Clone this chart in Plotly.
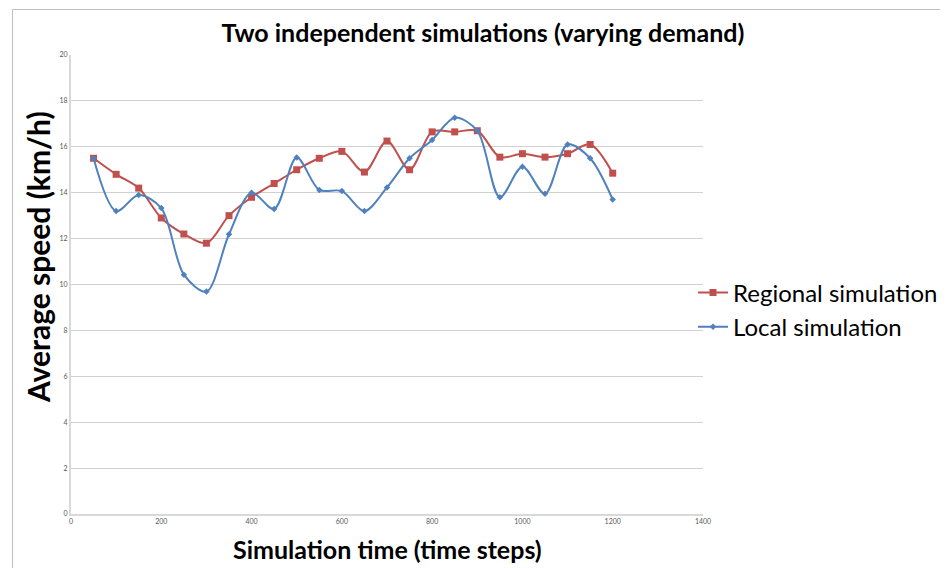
import plotly.graph_objects as go

time_steps = [50, 100, 150, 200, 250, 300, 350, 400, 450, 500, 550, 600,
              650, 700, 750, 800, 850, 900, 950, 1000, 1050, 1100, 1150, 1200]
regional = [15.5, 14.8, 14.2, 12.9, 12.2, 11.8, 13.0, 13.8, 14.4, 15.0, 15.5, 15.8,
            14.9, 16.25, 15.0, 16.65, 16.65, 16.7, 15.55, 15.7, 15.55, 15.7, 16.1, 14.85]
local = [15.5, 13.2, 13.9, 13.33, 10.43, 9.69, 12.19, 14.0, 13.29, 15.53, 14.12, 14.07,
         13.2, 14.23, 15.5, 16.3, 17.27, 16.7, 13.8, 15.13, 13.95, 16.1, 15.5, 13.7]

x_ticks = [0, 200, 400, 600, 800, 1000, 1200, 1400]
y_ticks = [0, 2, 4, 6, 8, 10, 12, 14, 16, 18, 20]

RED = "#C0504D"
BLUE = "#4F81BD"
FONT = "Lato, Open Sans, sans-serif"

# page body has an 8px margin, so the figure is drawn 8px in from the window corner
OFF = 8
W, H = 948 - OFF, 568 - OFF
L, R, T, B = 71 - OFF, 245, 55 - OFF, 54
PW, PH = W - L - R, H - T - B


def px(sx):  # screen x -> paper x
    return (sx - 71) / PW


def py(sy):  # screen y -> paper y
    return (514 - sy) / PH


fig = go.Figure()
fig.add_trace(go.Scatter(
    x=time_steps, y=regional, name="Regional simulation",
    mode="lines+markers", line=dict(color=RED, width=2, shape="spline", smoothing=0.9),
    marker=dict(symbol="square", size=7, color=RED),
))
fig.add_trace(go.Scatter(
    x=time_steps, y=local, name="Local simulation",
    mode="lines+markers", line=dict(color=BLUE, width=2, shape="spline", smoothing=0.9),
    marker=dict(symbol="diamond", size=5, color=BLUE),
))

fig.update_layout(
    width=W, height=H,
    margin=dict(l=L, r=R, t=T, b=B, autoexpand=False),
    paper_bgcolor="white", plot_bgcolor="white",
    font=dict(family=FONT, color="black"),
    title=dict(text="<b>Two independent simulations (varying demand)</b>",
               font=dict(size=25, family=FONT, color="black"),
               x=(483 - OFF) / W, xref="container", xanchor="center",
               y=1 - (33 - OFF) / H, yref="container", yanchor="middle"),
    legend=dict(x=px(693), xanchor="left", y=py(310), yanchor="middle",
                font=dict(size=24, family=FONT, color="black"),
                bgcolor="rgba(0,0,0,0)", tracegroupgap=0, itemwidth=30),
    showlegend=True,
)
fig.update_xaxes(
    range=[0, 1400], tickvals=x_ticks, ticktext=[str(v) for v in x_ticks],
    tickfont=dict(size=7, color="#595959"), showgrid=False, zeroline=False,
    showline=True, linecolor="#D9D9D9", linewidth=2, ticks="", ticklen=0,
    automargin=False,
)
fig.update_yaxes(
    range=[0, 20], tickvals=y_ticks, ticktext=[str(v) for v in y_ticks],
    tickfont=dict(size=7, color="#595959"), showgrid=True, gridcolor="#D0D0D0", gridwidth=1,
    zeroline=False, showline=True, linecolor="#D9D9D9", linewidth=2, ticks="", ticklen=0,
    automargin=False,
)

fig.add_annotation(text="<b>Simulation time (time steps)</b>", xref="paper", yref="paper",
                   x=px(387), y=py(549), xanchor="center", yanchor="middle",
                   showarrow=False, font=dict(size=25, family=FONT, color="black"))
fig.add_annotation(text="<b>Average speed (km/h)</b>", xref="paper", yref="paper",
                   x=px(38), y=py(257), xanchor="center", yanchor="middle",
                   textangle=-90, showarrow=False, font=dict(size=30, family=FONT, color="black"))

# outer chart-area border (left and top edges visible)
fig.add_shape(type="line", xref="paper", yref="paper", x0=px(12.5), x1=px(12.5), y0=py(9.5), y1=py(600),
              line=dict(color="#BFBFBF", width=1))
fig.add_shape(type="line", xref="paper", yref="paper", x0=px(12.5), x1=px(1000), y0=py(9.5), y1=py(9.5),
              line=dict(color="#BFBFBF", width=1))

fig.write_html("out.html")
